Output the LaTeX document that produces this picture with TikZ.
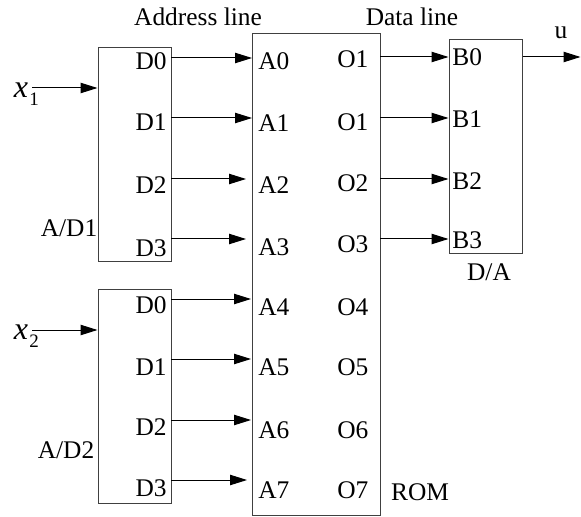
\documentclass[tikz,border=0pt]{standalone}
\usepackage{fontspec}
\setmainfont{Liberation Serif}
\usetikzlibrary{arrows.meta}
\begin{document}
\begin{tikzpicture}[x=0.5pt,y=-0.5pt,
  font=\fontsize{12.7}{14}\selectfont,
  box/.style={draw=black!75, line width=0.5pt, inner sep=0pt, minimum width=36.5pt, minimum height=107pt},
  conn/.style={-{Triangle[length=8.5pt,width=5.2pt]}, line width=0.5pt},
  lab/.style={inner sep=0pt}]
\useasboundingbox (0,0) rectangle (581,517);
% boxes
\node[box] (ad1) at (134.5,155) {};
\node[box] (ad2) at (134.5,396) {};
\node[box, minimum width=64pt, minimum height=240.5pt] (rom) at (316,274.5) {};
\node[box] (da) at (485.5,147) {};
% titles
\node[lab] (addr) at (198,16.5) {Address line};
\node[lab] (data) at (412,16.5) {Data line};
\node[lab] (ad1l) at (69,228) {A/D1};
\node[lab] (ad2l) at (66,450) {A/D2};
\node[lab] (dal) at (489,272) {D/A};
\node[lab] (roml) at (420,492) {ROM};
\node[lab] (ul) at (561,33) {u};
% inputs
\node[lab, font=\fontsize{16}{17}\selectfont\itshape] (x1) at (21,90) {x};
\node[lab, font=\fontsize{9.5}{10}\selectfont, anchor=north west] (x1s) at (29,93) {1};
\node[lab, font=\fontsize{16}{17}\selectfont\itshape] (x2) at (21,332) {x};
\node[lab, font=\fontsize{9.5}{10}\selectfont, anchor=north west] (x2s) at (29,335) {2};
\coordinate (x1a) at (32,88);
\coordinate (x2a) at (32,330);
\draw[conn] (x1a) -- (x1a -| ad1.west);
\draw[conn] (x2a) -- (x2a -| ad2.west);
% A/D1 -> ROM
\foreach \i/\y/\ex/\dy/\ay in {0/58/252/61.5/61, 1/118/252/122/123, 2/179/246/185/185, 3/239/246/248/247} {
  \node[lab, anchor=east] (d1\i) at (167,\dy) {D\i};
  \node[lab, anchor=west] (a\i) at (258,\ay) {A\i};
  \coordinate (s1\i) at (171,\y);
  \coordinate (e1\i) at (\ex,\y);
  \draw[conn] (s1\i) -- (e1\i);
}
% A/D2 -> ROM
\foreach \i/\n/\y/\ex/\dy/\ay in {0/4/299/251/305/307, 1/5/359/251/367/367, 2/6/420/251/427/430, 3/7/480/247/488/490} {
  \node[lab, anchor=east] (d2\i) at (167,\dy) {D\i};
  \node[lab, anchor=west] (a\n) at (258,\ay) {A\n};
  \coordinate (s2\i) at (171,\y);
  \coordinate (e2\i) at (\ex,\y);
  \draw[conn] (s2\i) -- (e2\i);
}
% outputs labels
\foreach \k/\t/\y in {1/O1/59, 2/O1/122, 3/O2/183, 4/O3/244, 5/O4/307, 6/O5/367, 7/O6/430, 8/O7/490} {
  \node[lab, anchor=west] (o\k) at (337,\y) {\t};
}
% ROM -> D/A
\foreach \i/\y/\by in {0/57/57, 1/118/119, 2/179/181, 3/239/240} {
  \node[lab, anchor=west] (b\i) at (452,\by) {B\i};
  \coordinate (r\i) at (380,\y);
  \draw[conn] (r\i) -- (r\i -| da.west);
}
% u output
\coordinate (uo) at (580.5,57);
\draw[conn] (uo -| da.east) -- (uo);
\end{tikzpicture}
\end{document}
